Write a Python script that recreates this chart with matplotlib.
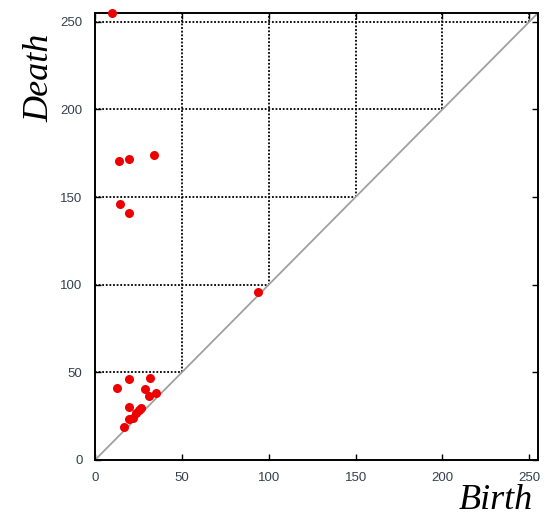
#!/usr/bin/env python3
"""Persistence diagram: birth vs death of features."""

import matplotlib
matplotlib.use('Agg')
import matplotlib.pyplot as plt

# birth / death pairs
birth = [9.6, 13.7, 19.8, 34.0, 14.6, 19.8, 93.7,
         12.5, 19.8, 31.7, 28.9, 31.3, 35.2, 19.8, 26.4,
         25.4, 23.7, 22.1, 19.8, 16.7]
death = [255, 170.7, 171.6, 173.9, 145.9, 140.8, 95.7,
         40.9, 46.1, 47.0, 40.4, 36.7, 38.1, 30.1, 29.9,
         28.5, 27.0, 24.1, 23.4, 19.0]

ticks = [0, 50, 100, 150, 200, 250]
lim = 255

fig = plt.figure(figsize=(5.47, 5.19), dpi=100)
ax = fig.add_axes([0.1737, 0.1137, 0.8098, 0.8613])

# grid only above the diagonal
grid_style = dict(color='black', linestyle=(0, (1, 1)), linewidth=1.3, zorder=1)
for t in ticks[1:]:
    ax.plot([0, t], [t, t], **grid_style)
    ax.plot([t, t], [t, lim], **grid_style)

# diagonal
ax.plot([0, lim], [0, lim], color='#a0a0a0', linewidth=1.3, zorder=2)

ax.plot(birth, death, 'o', color='#ee0000', markersize=6.5,
        markeredgewidth=0, clip_on=False, zorder=3)

ax.set_xlim(0, lim)
ax.set_ylim(0, lim)
ax.set_xticks(ticks)
ax.set_yticks(ticks)
ax.tick_params(direction='in', length=4, width=1, top=True, right=True,
               labelsize=9.5, labelcolor='#34404e', pad=9)
for lab in ax.get_xticklabels() + ax.get_yticklabels():
    lab.set_family('Liberation Sans')
for s in ax.spines.values():
    s.set_linewidth(1.4)

fig.text(0.073, 0.85, 'Death', rotation=90, ha='center', va='center',
         family='Liberation Serif', style='italic', fontsize=26)
fig.text(0.907, 0.035, 'Birth', ha='center', va='center',
         family='Liberation Serif', style='italic', fontsize=26)

plt.savefig('out.png', dpi=100)
